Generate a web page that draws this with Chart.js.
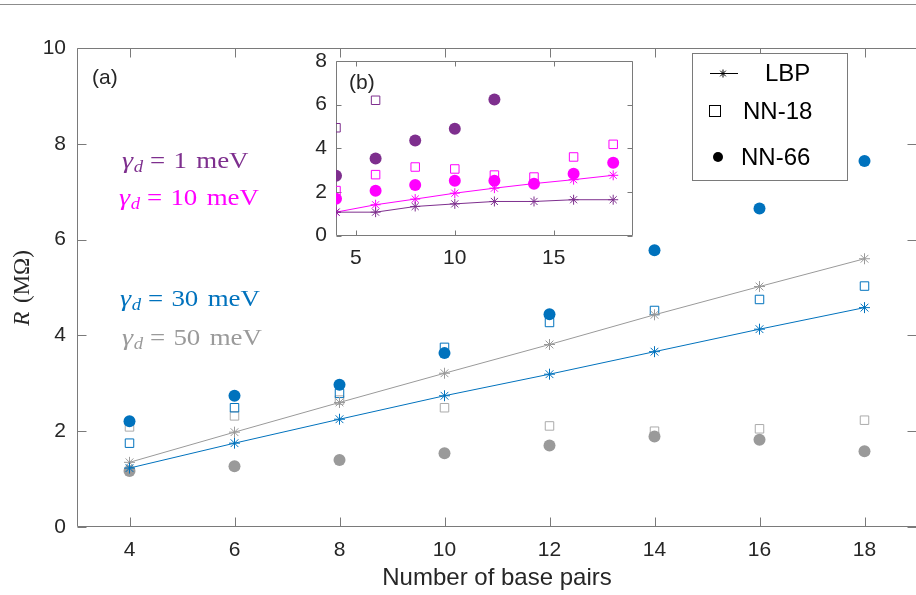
<!DOCTYPE html>
<html><head><meta charset="utf-8">
<script src="https://cdn.jsdelivr.net/npm/chart.js@4/dist/chart.umd.min.js"></script>
<style>
html,body{margin:0;padding:0;background:#fff;overflow:hidden;width:916px;height:595px;}
#topline{position:absolute;left:0;top:4px;width:916px;height:0;border-top:1px solid #8c8c8c;}
#main{position:absolute;left:0;top:0;width:924px;height:595px;}
#inset{position:absolute;left:280px;top:30px;width:370px;height:240px;}
</style></head>
<body>
<div id="topline"></div>
<div id="main"><canvas id="c1"></canvas></div>
<div id="inset"><canvas id="c2"></canvas></div>
<script>
// ---------- data ----------
const basePairs = [4, 6, 8, 10, 12, 14, 16, 18];
// main panel (a): gamma_d = 30 meV
const lbp30  = [1.23, 1.75, 2.25, 2.74, 3.19, 3.66, 4.13, 4.58];
const nn18_30 = [1.75, 2.49, 2.79, 3.75, 4.27, 4.52, 4.75, 5.03];
const nn66_30 = [2.21, 2.74, 2.97, 3.63, 4.44, 5.78, 6.65, 7.64];
// main panel (a): gamma_d = 50 meV
const lbp50  = [1.35, 1.98, 2.60, 3.21, 3.81, 4.43, 5.02, 5.60];
const nn18_50 = [2.09, 2.32, 2.65, 2.49, 2.11, 2.00, 2.05, 2.23];
const nn66_50 = [1.17, 1.27, 1.40, 1.54, 1.70, 1.89, 1.82, 1.58];
// inset (b): gamma_d = 1 meV
const lbp1   = [1.07, 1.07, 1.33, 1.45, 1.56, 1.56, 1.64, 1.64];
const nn18_1 = [4.94, 6.20, null, null, null, null, null, null];
const nn66_1 = [2.74, 3.53, 4.35, 4.89, 6.24, null, null, null];
// inset (b): gamma_d = 10 meV
const lbp10   = [1.07, 1.41, 1.67, 1.94, 2.17, 2.38, 2.56, 2.76];
const nn18_10 = [2.06, 2.79, 3.14, 3.05, 2.77, 2.68, 3.60, 4.18];
const nn66_10 = [1.68, 2.05, 2.31, 2.51, 2.51, 2.37, 2.83, 3.34];
// ticks
const xTicks = [4, 6, 8, 10, 12, 14, 16, 18];
const yTicks = [0, 2, 4, 6, 8, 10];
const insetXTicks = [5, 10, 15];
const insetYTicks = [0, 2, 4, 6, 8];
const gammaLabels = ['1', '10', '30', '50'];
const legendLabels = ['LBP', 'NN-18', 'NN-66'];

// ---------- styles ----------
const BLUE = '#0072BD', GRAY = '#9a9a9a', GRAYSQ = '#ababab', PURPLE = '#7E2F8E', MAG = '#FF00FF';
const TXT = '#262626', AX = '#7a7a7a';
const SANS = '"Liberation Sans", Arial, Helvetica, sans-serif';
const SERIF = '"Liberation Serif", "Times New Roman", serif';

const pts = arr => basePairs.map((x, i) => ({x: x, y: arr[i]}));
function lineDs(arr, color, r) {
  return {data: pts(arr), showLine: true, borderColor: color, borderWidth: 1,
    pointStyle: 'star', pointRadius: r, pointBorderColor: color, pointBorderWidth: 1,
    pointBackgroundColor: color, tension: 0, fill: false};
}
function dotDs(arr, color, r) {
  return {data: pts(arr), showLine: false, pointStyle: 'circle', pointRadius: r,
    pointBackgroundColor: color, pointBorderColor: color, pointBorderWidth: 0};
}
function sqDs(arr, color, r) {
  return {data: pts(arr), showLine: false, pointStyle: 'rect', pointRadius: r,
    pointBackgroundColor: 'rgba(0,0,0,0)', pointBorderColor: color, pointBorderWidth: 1};
}

function frame(tickLen, xt, yt, fillWhite) {
  return {
    id: 'frame',
    beforeDatasetsDraw(chart) {
      const {ctx, chartArea: a, scales: {x, y}} = chart;
      ctx.save();
      const L = Math.round(a.left) + 0.5, R = Math.round(a.right) - 0.5,
            T = Math.round(a.top) + 0.5, B = Math.round(a.bottom) - 0.5;
      if (fillWhite) { ctx.fillStyle = '#fff'; ctx.fillRect(L, T, R - L, B - T); }
      ctx.strokeStyle = AX; ctx.lineWidth = 1;
      ctx.beginPath();
      ctx.rect(L, T, R - L, B - T);
      xt.forEach(v => { const p = Math.round(x.getPixelForValue(v)) + 0.5;
        ctx.moveTo(p, B); ctx.lineTo(p, B - tickLen); ctx.moveTo(p, T); ctx.lineTo(p, T + tickLen); });
      yt.forEach(v => { const p = Math.round(y.getPixelForValue(v)) + 0.5;
        ctx.moveTo(L, p); ctx.lineTo(L + tickLen, p); ctx.moveTo(R, p); ctx.lineTo(R - tickLen, p); });
      ctx.stroke();
      ctx.restore();
    }
  };
}

function drawGamma(ctx, x, base, num, color) {
  ctx.save();
  ctx.fillStyle = color;
  ctx.textBaseline = 'alphabetic';
  ctx.textAlign = 'left';
  ctx.translate(x, base);
  ctx.scale(1.17, 1);
  let cx = 0;
  ctx.font = 'italic 24px ' + SERIF;
  ctx.fillText('γ', cx, 0); cx += ctx.measureText('γ').width + 0.5;
  ctx.font = 'italic 16px ' + SERIF;
  ctx.fillText('d', cx, 4); cx += ctx.measureText('d').width + 6;
  ctx.font = '23px ' + SERIF;
  ctx.fillText('=', cx, 0); cx += ctx.measureText('=').width + 7;
  ctx.fillText(num, cx, 0); cx += ctx.measureText(num).width + 8;
  ctx.fillText('meV', cx, 0);
  ctx.restore();
}

function drawStar(ctx, x, y, r) {
  const d = r * Math.SQRT1_2;
  ctx.moveTo(x - r, y); ctx.lineTo(x + r, y);
  ctx.moveTo(x, y - r); ctx.lineTo(x, y + r);
  ctx.moveTo(x - d, y - d); ctx.lineTo(x + d, y + d);
  ctx.moveTo(x - d, y + d); ctx.lineTo(x + d, y - d);
}

const mainDecor = {
  id: 'mainDecor',
  afterDraw(chart) {
    const ctx = chart.ctx;
    const a = chart.chartArea;
    ctx.save();
    // panel label
    ctx.fillStyle = TXT; ctx.font = '21px ' + SANS; ctx.textBaseline = 'middle'; ctx.textAlign = 'left';
    ctx.fillText('(a)', a.left + 15, 78);
    // gamma annotations
    drawGamma(ctx, a.left + 45, 168, gammaLabels[0], PURPLE);
    drawGamma(ctx, a.left + 42, 205, gammaLabels[1], MAG);
    drawGamma(ctx, a.left + 43, 306, gammaLabels[2], BLUE);
    drawGamma(ctx, a.left + 45, 345, gammaLabels[3], GRAY);
    // y title  R (MΩ)
    ctx.save();
    ctx.translate(23, 288);
    ctx.rotate(-Math.PI / 2);
    ctx.fillStyle = TXT; ctx.textBaseline = 'middle'; ctx.textAlign = 'left';
    ctx.font = 'italic 23px ' + SERIF;
    const w1 = ctx.measureText('R').width;
    ctx.font = '23px ' + SERIF;
    const w2 = ctx.measureText(' (MΩ)').width;
    const sx = -(w1 + w2 + 3) / 2;
    ctx.font = 'italic 23px ' + SERIF;
    ctx.fillText('R', sx, 0);
    ctx.font = '23px ' + SERIF;
    ctx.fillText(' (MΩ)', sx + w1 + 3, 0);
    ctx.restore();
    // legend
    ctx.fillStyle = '#fff'; ctx.fillRect(692.5, 53.5, 155, 127);
    ctx.strokeStyle = AX; ctx.lineWidth = 1; ctx.strokeRect(692.5, 53.5, 155, 127);
    ctx.strokeStyle = '#000'; ctx.fillStyle = '#000';
    ctx.beginPath(); ctx.moveTo(710, 73.5); ctx.lineTo(738, 73.5); drawStar(ctx, 723, 73.5, 4); ctx.stroke();
    ctx.strokeRect(709.5, 105.5, 11, 11);
    ctx.beginPath(); ctx.arc(718, 157, 5, 0, Math.PI * 2); ctx.fill();
    ctx.font = '24px ' + SANS; ctx.textBaseline = 'middle'; ctx.textAlign = 'left'; ctx.fillStyle = '#000';
    ctx.fillText(legendLabels[0], 765, 74);
    ctx.fillText(legendLabels[1], 743, 112);
    ctx.fillText(legendLabels[2], 741, 158);
    ctx.restore();
  }
};

const mainChart = new Chart(document.getElementById('c1'), {
  type: 'line',
  data: {datasets: [
    lineDs(lbp30, BLUE, 5.5),
    lineDs(lbp50, GRAY, 5.5),
    dotDs(nn66_30, BLUE, 6),
    dotDs(nn66_50, GRAY, 6),
    sqDs(nn18_30, BLUE, 6),
    sqDs(nn18_50, GRAYSQ, 6)
  ]},
  options: {
    responsive: true, maintainAspectRatio: false, animation: false,
    layout: {padding: {top: 48, right: 5.5, left: 0, bottom: 0}},
    plugins: {legend: {display: false}, tooltip: {enabled: false}},
    scales: {
      x: {type: 'linear', min: 3, max: 19,
        afterBuildTicks: s => { s.ticks = xTicks.map(v => ({value: v})); },
        afterFit: s => { s.height = 68; },
        grid: {display: false}, border: {display: false},
        ticks: {color: TXT, font: {family: SANS, size: 21}, padding: 3, maxRotation: 0},
        title: {display: true, text: 'Number of base pairs', color: TXT,
          font: {family: SANS, size: 24}, padding: {top: 0, bottom: 2}}
      },
      y: {type: 'linear', min: 0, max: 10,
        afterBuildTicks: s => { s.ticks = yTicks.map(v => ({value: v})); },
        afterFit: s => { s.width = 77; },
        grid: {display: false}, border: {display: false},
        ticks: {color: TXT, font: {family: SANS, size: 21}, padding: 3}
      }
    }
  },
  plugins: [frame(9, xTicks, yTicks, false), mainDecor]
});

const insetDecor = {
  id: 'insetDecor',
  afterDraw(chart) {
    const ctx = chart.ctx, a = chart.chartArea;
    ctx.save();
    ctx.fillStyle = TXT; ctx.font = '21px ' + SANS; ctx.textBaseline = 'middle'; ctx.textAlign = 'left';
    ctx.fillText('(b)', a.left + 13, 53.5);
    ctx.restore();
  }
};

const insetChart = new Chart(document.getElementById('c2'), {
  type: 'line',
  data: {datasets: [
    lineDs(lbp1, PURPLE, 5),
    lineDs(lbp10, MAG, 5),
    dotDs(nn66_1, PURPLE, 6),
    dotDs(nn66_10, MAG, 6),
    sqDs(nn18_1, PURPLE, 6),
    sqDs(nn18_10, MAG, 6)
  ]},
  options: {
    responsive: true, maintainAspectRatio: false, animation: false,
    layout: {padding: {top: 31, right: 17, left: 0, bottom: 0}},
    plugins: {legend: {display: false}, tooltip: {enabled: false}},
    scales: {
      x: {type: 'linear', min: 4, max: 19,
        afterBuildTicks: s => { s.ticks = insetXTicks.map(v => ({value: v})); },
        afterFit: s => { s.height = 34.5; },
        grid: {display: false}, border: {display: false},
        ticks: {color: TXT, font: {family: SANS, size: 21}, padding: 2, maxRotation: 0}
      },
      y: {type: 'linear', min: 0, max: 8,
        afterBuildTicks: s => { s.ticks = insetYTicks.map(v => ({value: v})); },
        afterFit: s => { s.width = 56; },
        grid: {display: false}, border: {display: false},
        ticks: {color: TXT, font: {family: SANS, size: 21}, padding: 1}
      }
    }
  },
  plugins: [frame(5, insetXTicks, insetYTicks, true), insetDecor]
});
</script>
</body></html>
